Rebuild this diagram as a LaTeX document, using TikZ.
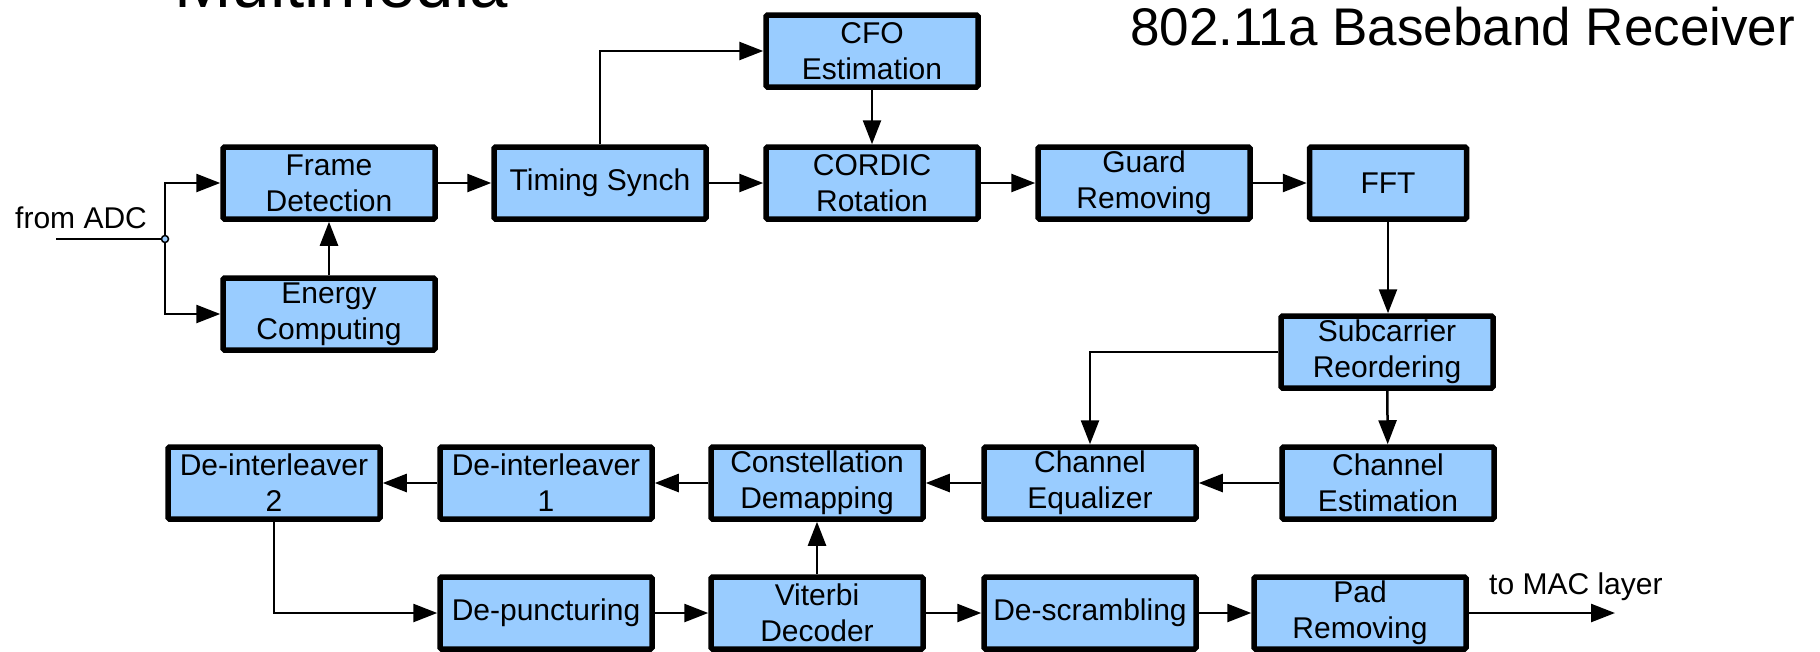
\documentclass[tikz,border=0pt]{standalone}
\usepackage{fontspec}
\usetikzlibrary{arrows.meta}
\newfontfamily\diagfont{Liberation Sans}
\newfontfamily\headfont{Liberation Sans}
\definecolor{boxblue}{RGB}{153,204,255}

\tikzset{
  blk/.style={draw=black, line width=5.5pt, fill=boxblue, rounded corners=1.5pt,
    minimum width=212pt, minimum height=72pt, inner sep=0pt, align=center,
    font=\diagfont\fontsize{30}{36}\selectfont},
  wire/.style={line width=2.5pt},
  flow/.style={wire, -{Triangle[length=24pt,width=18pt]}},
  lbl/.style={inner sep=0pt, font=\diagfont\fontsize{30}{36}\selectfont}
}

\begin{document}
\begin{tikzpicture}[x=1pt, y=-1pt]
  \useasboundingbox (0,0) rectangle (1820,651);
  \clip (0,0) rectangle (1820,651);

  % headings
  \node[inner sep=0pt, anchor=base west, font=\headfont\fontsize{69}{80}\selectfont]
    (hdA) at (174,7) {Multimedia};
  \node[inner sep=0pt, anchor=base west, font=\headfont\fontsize{53}{62}\selectfont]
    (hdB) at (1130,45) {802.11a Baseband Receiver};

  % synchronisation chain
  \node[blk] (fd)  at (329,183)  {Frame\\Detection};
  \node[blk] (ec)  at (329,314)  {Energy\\Computing};
  \node[blk] (ts)  at (600,183)  {Timing Synch};
  \node[blk] (cfo) at (872,51)   {CFO\\Estimation};
  \node[blk] (cor) at (872,183)  {CORDIC\\Rotation};
  \node[blk] (grd) at (1144,183) {Guard\\Removing};
  \node[blk, minimum width=157pt] (fft) at (1388,183) {FFT};

  % equalisation chain
  \node[blk] (sub)  at (1387,352) {Subcarrier\\Reordering};
  \node[blk] (chst) at (1388,483) {Channel\\Estimation};
  \node[blk] (cheq) at (1090,483) {Channel\\Equalizer};
  \node[blk] (cdm)  at (817,483)  {Constellation\\Demapping};
  \node[blk] (di1)  at (546,483)  {De-interleaver\\1};
  \node[blk] (di2)  at (274,483)  {De-interleaver\\2};

  % decoding chain
  \node[blk] (dp)  at (546,613)  {De-puncturing};
  \node[blk] (vit) at (817,613)  {Viterbi\\Decoder};
  \node[blk] (ds)  at (1090,613) {De-scrambling};
  \node[blk] (pad) at (1360,613) {Pad\\Removing};

  % input from the ADC
  \coordinate (adc) at (56,239);
  \coordinate (jn)  at (165,239);
  \node[lbl, anchor=base west] (adcl) at (15,228) {from ADC};
  \draw[wire] (adc) -- (jn);
  \draw[flow] (jn) |- (fd.west);
  \draw[flow] (jn) |- (ec.west);
  \node[circle, draw=black, fill=boxblue, line width=1.5pt, minimum size=7pt,
    inner sep=0pt] (jc) at (jn) {};

  % connectors, top row
  \draw[flow] (ec) -- (fd);
  \draw[flow] (fd) -- (ts);
  \draw[flow] (ts.north) |- (cfo.west);
  \draw[flow] (ts) -- (cor);
  \draw[flow] (cfo) -- (cor);
  \draw[flow] (cor) -- (grd);
  \draw[flow] (grd) -- (fft);
  \draw[flow] (fft.south) -- (fft.south |- sub.north);

  % connectors, middle row
  \draw[flow] (sub) -- (chst);
  \draw[flow] (sub.west) -| (cheq.north);
  \draw[flow] (chst) -- (cheq);
  \draw[flow] (cheq) -- (cdm);
  \draw[flow] (cdm) -- (di1);
  \draw[flow] (di1) -- (di2);

  % connectors, bottom row
  \draw[flow] (di2.south) |- (dp.west);
  \draw[flow] (dp) -- (vit);
  \draw[flow] (vit) -- (cdm);
  \draw[flow] (vit) -- (ds);
  \draw[flow] (ds) -- (pad);
  \coordinate (mac) at (1615,613);
  \draw[flow] (pad.east) -- (mac);
  \node[lbl, anchor=base west] (macl) at (1489,594) {to MAC layer};
\end{tikzpicture}
\end{document}
